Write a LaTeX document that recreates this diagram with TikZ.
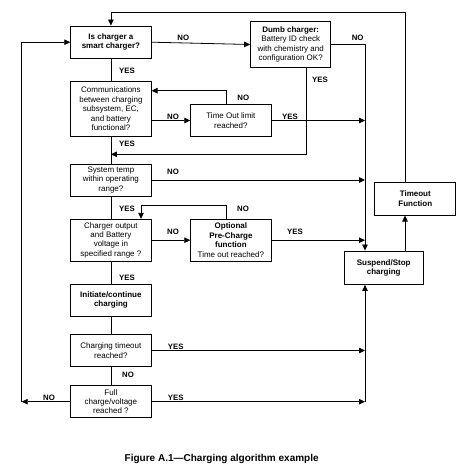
\documentclass[tikz,border=0pt]{standalone}
\usepackage{fontspec}
\setmainfont{Liberation Sans}
\usetikzlibrary{arrows.meta,calc}
\begin{document}
\begin{tikzpicture}[x=1pt,y=-1pt,
  box/.style={draw, line width=1pt, minimum width=80.3pt, align=center, inner sep=1pt, font=\fontsize{8}{9.4}\selectfont},
  lbl/.style={font=\bfseries\fontsize{7.8}{9}\selectfont, inner sep=0pt},
  conn/.style={line width=0.8pt},
  arr/.style={-{Triangle[length=6pt,width=5.5pt]}}]
\useasboundingbox (0,0) rectangle (466,473);
% boxes
\node[box, minimum height=32.3pt] (smart) at (110.9,42.2) {\textbf{Is charger a}\\\textbf{smart charger?}};
\node[box, minimum height=55.7pt] (comm) at (110.9,108.9) {Communications\\between charging\\subsystem, EC,\\and battery\\functional?};
\node[box, minimum height=32.4pt] (tol) at (230.9,120.5) {Time Out limit\\reached?};
\node[box, minimum width=80pt, minimum height=46.4pt] (dumb) at (290.7,44.5) {\textbf{Dumb charger:}\\Battery ID check\\with chemistry and\\configuration OK?};
\node[box, minimum height=32pt] (temp) at (110.9,180) {System temp\\within operating\\range?};
\node[box, minimum height=41.7pt] (chout) at (110.9,240.2) {Charger output\\and Battery\\voltage in\\specified range ?};
\node[box, minimum height=41.7pt] (pre) at (230.9,240.2) {\textbf{Optional}\\\textbf{Pre-Charge}\\\textbf{function}\\Time out reached?};
\node[box, minimum height=31.7pt] (init) at (110.9,300.2) {\textbf{Initiate/continue}\\\textbf{charging}};
\node[box, minimum height=32.4pt] (ctime) at (110.9,350.5) {Charging timeout\\reached?};
\node[box, minimum height=32pt] (full) at (110.9,401.7) {Full\\charge/voltage\\reached ?};
\node[box, minimum width=79.3pt, minimum height=33.3pt] (susp) at (383.7,267.7) {\textbf{Suspend/Stop}\\\textbf{charging}};
\node[box, minimum width=80.7pt, minimum height=32.7pt] (tfunc) at (415.3,198.7) {\textbf{Timeout}\\\textbf{Function}};
% helper coordinates
\coordinate (busx) at (365,0);
\coordinate (lx) at (21.7,0);
\coordinate (rx) at (405,0);
\coordinate (topy) at (0,12.3);
\coordinate (dy) at (0,154.3);
\coordinate (cy) at (0,90.7);
\coordinate (py) at (0,205);
\coordinate (px) at (141,0);
\coordinate (tn) at ([xshift=-4.2pt]tol.north);
\coordinate (pn) at ([xshift=-4.2pt]pre.north);
\coordinate (ds) at ([xshift=15.3pt]dumb.south);
% connectors
\draw[conn,arr] (smart.east) -- (dumb.west);
\draw[conn] (smart.south) -- (comm.north);
\draw[conn,arr] (tol.west -| comm.east) -- (tol.west);
\draw[conn,arr] (tn) -- (tn |- cy) -- (comm.east |- cy);
\draw[conn,arr] (tol.east) -- (tol.east -| busx);
\draw[conn,arr] (dumb.east) -- (dumb.east -| busx) -- (susp.north -| busx);
\draw[conn,arr] (ds) -- (ds |- dy) -- (smart.south |- dy);
\draw[conn] (comm.south) -- (temp.north);
\draw[conn,arr] (temp.east) -- (temp.east -| busx);
\draw[conn] (temp.south) -- (chout.north);
\draw[conn,arr] (pn) -- (pn |- py) -- (px |- py) -- (px |- chout.north);
\draw[conn,arr] (chout.east) -- (pre.west);
\draw[conn,arr] (pre.east) -- (pre.east -| busx);
\draw[conn] (chout.south) -- (init.north);
\draw[conn] (init.south) -- (ctime.north);
\draw[conn,arr] (ctime.east) -- (ctime.east -| busx);
\draw[conn] (ctime.south) -- (full.north);
\draw[conn,arr] (full.east) -- (full.east -| busx);
\draw[conn,arr] (full.east -| busx) -- (susp.south -| busx);
\draw[conn,arr] (full.west) -- (full.west -| lx);
\draw[conn,arr] (full.west -| lx) -- (smart.west -| lx) -- (smart.west);
\draw[conn,arr] (susp.north -| rx) -- (tfunc.south -| rx);
\draw[conn,arr] (tfunc.north -| rx) -- (rx |- topy) -- (smart.north |- topy) -- (smart.north);
% labels
\node[lbl] (l1) at (183.3,37.7) {NO};
\node[lbl] (l2) at (127,71) {YES};
\node[lbl] (l3) at (357.7,37.7) {NO};
\node[lbl] (l4) at (320,80) {YES};
\node[lbl] (l5) at (243.3,98.3) {NO};
\node[lbl] (l6) at (173,116.7) {NO};
\node[lbl] (l7) at (290,116.7) {YES};
\node[lbl] (l8) at (127,144) {YES};
\node[lbl] (l9) at (173,171.7) {NO};
\node[lbl] (l10) at (127,209) {YES};
\node[lbl] (l11) at (243,209) {NO};
\node[lbl] (l12) at (173,231.7) {NO};
\node[lbl] (l13) at (295,231.7) {YES};
\node[lbl] (l14) at (127,277.7) {YES};
\node[lbl] (l15) at (175.7,346.7) {YES};
\node[lbl] (l16) at (128,375) {NO};
\node[lbl] (l17) at (49,397.7) {NO};
\node[lbl] (l18) at (175.7,397.7) {YES};
% caption
\node[font=\bfseries\fontsize{10}{12}\selectfont, inner sep=0pt] (cap) at (221.7,459.3) {Figure A.1---Charging algorithm example};
\end{tikzpicture}
\end{document}
